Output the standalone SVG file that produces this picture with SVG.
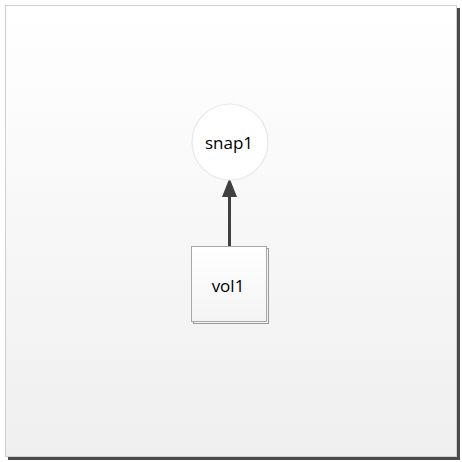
<svg xmlns="http://www.w3.org/2000/svg" width="462" height="462" viewBox="0 0 462 462">
  <defs>
    <linearGradient id="bg" x1="0" y1="0" x2="0" y2="1">
      <stop offset="0" stop-color="#ffffff"/>
      <stop offset="1" stop-color="#efefef"/>
    </linearGradient>
    <linearGradient id="boxFill" x1="0" y1="0" x2="0" y2="1">
      <stop offset="0" stop-color="#ffffff"/>
      <stop offset="1" stop-color="#f4f4f4"/>
    </linearGradient>
    <style>
      .label { font-family: "Open Sans", "Liberation Sans", sans-serif; font-size: 17px; fill: #000; text-anchor: middle; dominant-baseline: central; }
      .edge { stroke: #404040; stroke-width: 3; fill: none; }
    </style>
  </defs>

  <!-- canvas frame with drop shadow -->
  <rect x="8" y="8" width="452" height="452" fill="#4a4a4a"/>
  <rect x="5.5" y="5.5" width="451" height="451" fill="url(#bg)" stroke="#cfcfcf" stroke-width="1"/>

  <!-- connectors -->
  <g id="connectors">
    <line class="edge" x1="229.5" y1="246" x2="229.5" y2="196"/>
    <path d="M222,197 L229.5,178 L237,197 Z" fill="#404040"/>
  </g>

  <!-- snapshot node -->
  <g id="snap1">
    <circle cx="230" cy="142" r="38" fill="#ffffff" stroke="#e8e8e8" stroke-width="1.2"/>
    <text class="label" x="229" y="142">snap1</text>
  </g>

  <!-- volume node -->
  <g id="vol1">
    <rect x="193.5" y="248.5" width="75" height="75" fill="none" stroke="#9a9a9a" stroke-width="1"/>
    <rect x="191.5" y="246.5" width="75" height="75" fill="url(#boxFill)" stroke="#a8a8a8" stroke-width="1"/>
    <text class="label" x="228" y="285">vol1</text>
  </g>
</svg>
